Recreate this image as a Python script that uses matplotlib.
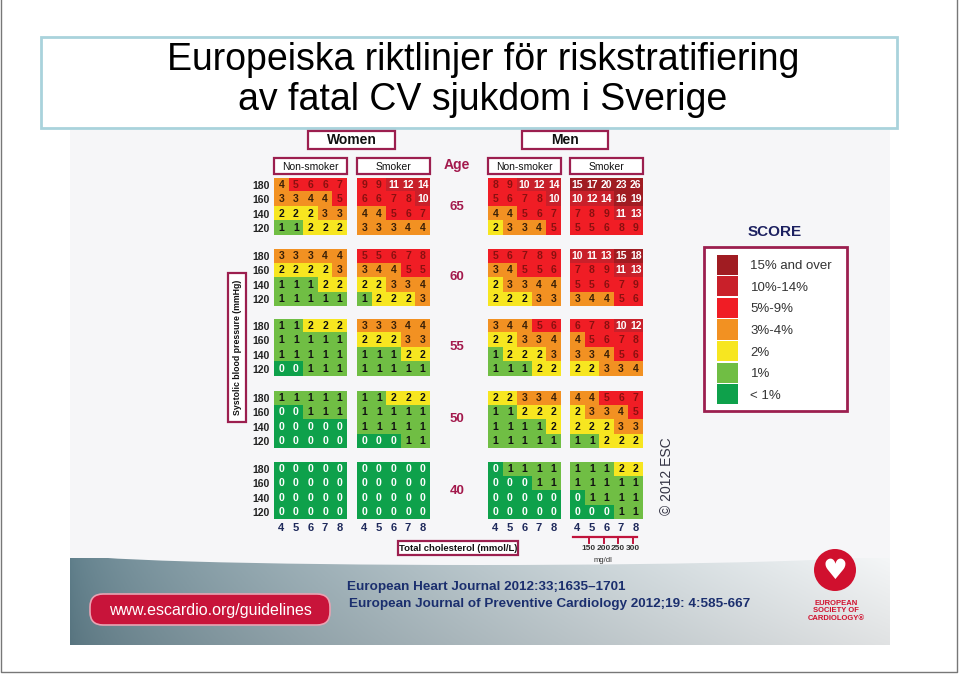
import numpy as np
import matplotlib
matplotlib.use("Agg")
import matplotlib.pyplot as plt
from matplotlib.colors import ListedColormap, BoundaryNorm, to_rgb
from matplotlib.patches import Rectangle, FancyBboxPatch, Circle, Ellipse

plt.rcParams["font.family"] = ["Liberation Sans", "DejaVu Sans"]

# --- data -------------------------------------------------------------
ages = [65, 60, 55, 50, 40]
sbp = [180, 160, 140, 120]
chol = [4, 5, 6, 7, 8]
mgdl = [150, 200, 250, 300]

# rows = SBP 180..120, cols = cholesterol 4..8, one 4x5 block per age
women_non = [
    [[4, 5, 6, 6, 7], [3, 3, 4, 4, 5], [2, 2, 2, 3, 3], [1, 1, 2, 2, 2]],
    [[3, 3, 3, 4, 4], [2, 2, 2, 2, 3], [1, 1, 1, 2, 2], [1, 1, 1, 1, 1]],
    [[1, 1, 2, 2, 2], [1, 1, 1, 1, 1], [1, 1, 1, 1, 1], [0, 0, 1, 1, 1]],
    [[1, 1, 1, 1, 1], [0, 0, 1, 1, 1], [0, 0, 0, 0, 0], [0, 0, 0, 0, 0]],
    [[0, 0, 0, 0, 0], [0, 0, 0, 0, 0], [0, 0, 0, 0, 0], [0, 0, 0, 0, 0]],
]
women_smk = [
    [[9, 9, 11, 12, 14], [6, 6, 7, 8, 10], [4, 4, 5, 6, 7], [3, 3, 3, 4, 4]],
    [[5, 5, 6, 7, 8], [3, 4, 4, 5, 5], [2, 2, 3, 3, 4], [1, 2, 2, 2, 3]],
    [[3, 3, 3, 4, 4], [2, 2, 2, 3, 3], [1, 1, 1, 2, 2], [1, 1, 1, 1, 1]],
    [[1, 1, 2, 2, 2], [1, 1, 1, 1, 1], [1, 1, 1, 1, 1], [0, 0, 0, 1, 1]],
    [[0, 0, 0, 0, 0], [0, 0, 0, 0, 0], [0, 0, 0, 0, 0], [0, 0, 0, 0, 0]],
]
men_non = [
    [[8, 9, 10, 12, 14], [5, 6, 7, 8, 10], [4, 4, 5, 6, 7], [2, 3, 3, 4, 5]],
    [[5, 6, 7, 8, 9], [3, 4, 5, 5, 6], [2, 3, 3, 4, 4], [2, 2, 2, 3, 3]],
    [[3, 4, 4, 5, 6], [2, 2, 3, 3, 4], [1, 2, 2, 2, 3], [1, 1, 1, 2, 2]],
    [[2, 2, 3, 3, 4], [1, 1, 2, 2, 2], [1, 1, 1, 1, 2], [1, 1, 1, 1, 1]],
    [[0, 1, 1, 1, 1], [0, 0, 0, 1, 1], [0, 0, 0, 0, 0], [0, 0, 0, 0, 0]],
]
men_smk = [
    [[15, 17, 20, 23, 26], [10, 12, 14, 16, 19], [7, 8, 9, 11, 13], [5, 5, 6, 8, 9]],
    [[10, 11, 13, 15, 18], [7, 8, 9, 11, 13], [5, 5, 6, 7, 9], [3, 4, 4, 5, 6]],
    [[6, 7, 8, 10, 12], [4, 5, 6, 7, 8], [3, 3, 4, 5, 6], [2, 2, 3, 3, 4]],
    [[4, 4, 5, 6, 7], [2, 3, 3, 4, 5], [2, 2, 2, 3, 3], [1, 1, 2, 2, 2]],
    [[1, 1, 1, 2, 2], [1, 1, 1, 1, 1], [0, 1, 1, 1, 1], [0, 0, 0, 1, 1]],
]

score_labels = ["15% and over", "10%-14%", "5%-9%", "3%-4%", "2%", "1%", "< 1%"]
score_colors = ["#a01c22", "#c9202a", "#f01d25", "#f29122", "#f7e620", "#70be44", "#0ea14b"]
bounds = [-0.5, 0.5, 1.5, 2.5, 4.5, 9.5, 14.5, 99]

# --- layout (pixels) ---------------------------------------------------
W, H = 960, 678
gx = [274, 357, 488, 570]      # left edge of each column group
ay = [178, 249, 319, 391, 462]  # top edge of each age block
bw, bh = 73, 57
maroon = "#9c1f4f"


def fa(x0, y0, w, h):
    return [x0 / W, 1 - (y0 + h) / H, w / W, h / H]


fig = plt.figure(figsize=(9.6, 6.78), dpi=100)
fig.patch.set_facecolor("white")
bg = fig.add_axes([0, 0, 1, 1])
bg.axis("off")

# chart picture background
bg.add_patch(Rectangle((70, 130), 820, 430, fc="#f6f6f8", ec="none", zorder=0))

# bottom banner gradient
t = np.linspace(0, 1, 400)
left, right = np.array(to_rgb("#5f7e8a")), np.array(to_rgb("#f4f6f7"))
row = left[None, :] * (1 - t[:, None] ** 0.7) + right[None, :] * t[:, None] ** 0.7
v = np.linspace(1.0, 0.92, 60)[:, None, None]
banner = np.clip(row[None, :, :] * v, 0, 1)
bg.imshow(banner, extent=(70, 890, 645, 558), aspect="auto", zorder=1)
bg.add_patch(Ellipse((480, 553), 820, 24, fc="#f6f6f8", ec="none", zorder=2))

bg.set_xlim(0, W)
bg.set_ylim(H, 0)

# slide frame
bg.plot([1, 1, 957, 957], [-5, 672, 672, -5], color="#777777", lw=1)

# title
bg.add_patch(Rectangle((41, 37), 856, 91, fc="white", ec="#a9d3dc", lw=2))
bg.text(483, 70, "Europeiska riktlinjer för riskstratifiering", ha="center",
        va="baseline", fontsize=27, color="black")
bg.text(483, 110, "av fatal CV sjukdom i Sverige", ha="center",
        va="baseline", fontsize=27, color="black")


# header boxes
def box_label(x0, y0, w, h, s, fs, bold=False):
    bg.add_patch(Rectangle((x0, y0), w, h, fc="white", ec=maroon, lw=1.6, zorder=5))
    bg.text(x0 + w / 2, y0 + h / 2 + 0.5, s, ha="center", va="center",
            fontsize=fs, fontweight="bold" if bold else "normal",
            color="#111111", zorder=6)


box_label(308, 131, 87, 18, "Women", 10, True)
box_label(522, 131, 86, 18, "Men", 10, True)
groups = ["Non-smoker", "Smoker", "Non-smoker", "Smoker"]
for g, name in enumerate(groups):
    box_label(gx[g], 158, bw, 16, name, 7.5)

bg.text(457, 165, "Age", ha="center", va="center", fontsize=10,
        fontweight="bold", color="#a3194c")
for a, age in enumerate(ages):
    bg.text(457, ay[a] + bh / 2, str(age), ha="center", va="center",
            fontsize=9.5, fontweight="bold", color="#a3194c")

# systolic label
bg.add_patch(Rectangle((228, 273), 18, 149, fc="white", ec=maroon, lw=1.6))
bg.text(237, 347, "Systolic blood pressure (mmHg)", rotation=90, ha="center",
        va="center", fontsize=6.3, fontweight="bold", color="#111111")

# cholesterol label
box_label(398, 541, 120, 14, "Total cholesterol (mmol/L)", 6.8, True)

# mg/dl scale under men smokers
red = "#c0143c"
tick_x = [gx[3] + bw / 5 * (0.8 + (m - 150) / 50 + 0.5) for m in mgdl]
bg.plot([573, 637], [537, 537], color=red, lw=1.6, zorder=5)
for x, m in zip(tick_x, mgdl):
    bg.plot([x, x], [537, 543], color=red, lw=1.4, zorder=5)
    bg.text(x, 549, str(m), ha="center", va="center", fontsize=6,
            fontweight="bold", color="#333333", zorder=6)
bg.text(603, 560, "mg/dl", ha="center", va="center", fontsize=5.5,
        color="#333333", zorder=6)

# copyright
bg.text(667, 476, "© 2012 ESC", rotation=90, ha="center", va="center",
        fontsize=10, color="#333344")

# SCORE legend
bg.text(775, 232, "SCORE", ha="center", va="center", fontsize=11,
        fontweight="bold", color="#1c2060")
bg.add_patch(Rectangle((704, 247), 143, 164, fc="white", ec=maroon, lw=2))
leg = fig.add_axes(fa(717, 254, 21, 151))
ypos = np.arange(len(score_labels))[::-1]
leg.barh(ypos, 1, height=0.93, color=score_colors)
leg.set_ylim(-0.5, len(score_labels) - 0.5)
leg.set_xlim(0, 1)
leg.set_xticks([])
leg.set_yticks(ypos)
leg.set_yticklabels(score_labels, fontsize=9.5, color="#333333")
leg.yaxis.tick_right()
leg.tick_params(axis="y", length=0, pad=9)
for s in leg.spines.values():
    s.set_visible(False)
leg.patch.set_alpha(0)

# risk blocks
cmap = ListedColormap(score_colors[::-1])
norm = BoundaryNorm(bounds, cmap.N)
for g, data in enumerate([women_non, women_smk, men_non, men_smk]):
    for a, age in enumerate(ages):
        ax = fig.add_axes(fa(gx[g], ay[a], bw, bh))
        arr = np.array(data[a])
        ax.imshow(arr, cmap=cmap, norm=norm, aspect="auto", interpolation="nearest")
        for i in range(arr.shape[0]):
            for j in range(arr.shape[1]):
                val = arr[i, j]
                if val == 0 or val >= 10:
                    c = "white"
                elif val >= 5:
                    c = "#8a1010"
                elif val >= 3:
                    c = "#3a2008"
                else:
                    c = "#111111"
                ax.text(j, i, str(val), ha="center", va="center", fontsize=7.5,
                        fontweight="bold", color=c)
        ax.set_xticks([])
        ax.set_yticks([])
        for s in ax.spines.values():
            s.set_visible(False)
        if g == 0:
            ax.set_yticks(range(len(sbp)))
            ax.set_yticklabels(sbp, fontsize=7.5, fontweight="bold", color="#222222")
        if a == len(ages) - 1:
            ax.set_xticks(range(len(chol)))
            ax.set_xticklabels(chol, fontsize=8, fontweight="bold", color="#1f2a5c")
        ax.tick_params(length=0, pad=3)

# footer
bg.add_patch(FancyBboxPatch((90, 594), 240, 31, boxstyle="round,pad=0,rounding_size=13",
                            fc="#c8143a", ec="#e9a3b3", lw=1.2, zorder=3))
bg.text(210, 610, "www.escardio.org/guidelines", ha="center", va="center",
        fontsize=11.5, color="white", zorder=4)
bg.text(347, 587, "European Heart Journal 2012:33;1635\u20131701", ha="left",
        va="center", fontsize=9.7, fontweight="bold", color="#1b2f6e", zorder=4)
bg.text(349, 604, "European Journal of Preventive Cardiology 2012;19: 4:585-667",
        ha="left", va="center", fontsize=9.7, fontweight="bold", color="#1b2f6e",
        zorder=4)

# ESC logo
bg.add_patch(Circle((835, 570), 21, fc="#d0102e", ec="none", zorder=4))
bg.text(835, 571, "\u2665", ha="center", va="center", fontsize=20,
        color="white", family=["DejaVu Sans"], zorder=5)
bg.text(836, 611, "EUROPEAN\nSOCIETY OF\nCARDIOLOGY\u00ae", ha="center",
        va="center", fontsize=5.5, fontweight="bold", color="#d0102e",
        linespacing=1.1, zorder=4)

fig.savefig("out.png", dpi=100)
